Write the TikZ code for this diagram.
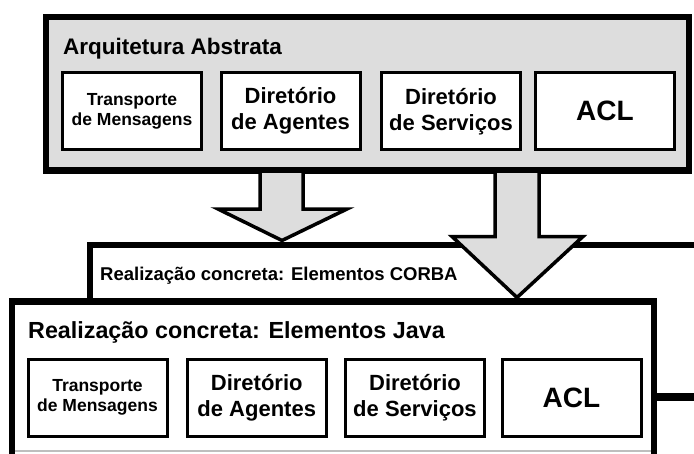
\documentclass[tikz,border=0pt]{standalone}
\usepackage{fontspec}
\setmainfont{Liberation Sans}
\definecolor{boxgray}{RGB}{221,221,221}
\definecolor{edgegray}{RGB}{190,190,190}
\tikzset{
  bigbox/.style={draw=black, line width=6.5pt, line join=miter},
  cell/.style={draw=black, line width=3pt, fill=white, minimum width=139pt,
    minimum height=77pt, inner sep=0pt, align=center,
    font=\fontsize{22}{26}\selectfont\bfseries},
  smallcell/.style={cell, font=\fontsize{17.5}{19.5}\selectfont\bfseries},
  aclcell/.style={cell, font=\fontsize{28}{30}\selectfont\bfseries},
  blockarrow/.style={draw=black, line width=3.5pt, fill=boxgray, line join=miter},
  title/.style={anchor=base west, inner sep=0pt}
}
\begin{document}
\begin{tikzpicture}[x=1pt, y=-1pt]
\useasboundingbox (0,0) rectangle (694,453);
\clip (0,0) rectangle (694,453);

% CORBA layer (behind)
\draw[draw=black, line width=5.5pt, line join=miter] (90,302) -- (90,245) -- (700,245);
\node[title, font=\fontsize{18.5}{20}\selectfont\bfseries] (corbat) at (100,280) {Realização concreta: Elementos CORBA};

% Java layer
\draw[bigbox] (12,460) -- (12,301.5) -- (654,301.5) -- (654,460);
\coordinate (jr) at (654,397);
\coordinate (jrend) at (700,397);
\draw[line width=8pt] (jr) -- (jrend);
\draw[edgegray, line width=1.5pt] (15,451) -- (651,451);
\node[title, font=\fontsize{23.3}{25}\selectfont\bfseries] (javat) at (28,338) {Realização concreta: Elementos Java};
\node[smallcell] (tm2) at (97.5,397.5) {Transporte\\de Mensagens};
\node[cell] (da2) at (256.75,397.5) {Diretório\\de Agentes};
\node[cell] (ds2) at (415,397.5) {Diretório\\de Serviços};
\node[aclcell] (acl2) at (571.5,397.5) {ACL};

% Abstract architecture
\draw[bigbox, fill=boxgray] (46,17) rectangle (689,170.5);
\node[title, font=\fontsize{22.5}{24}\selectfont\bfseries] (abst) at (63,54) {Arquitetura Abstrata};
\node[smallcell] (tm1) at (132,111.25) {Transporte\\de Mensagens};
\node[cell] (da1) at (290.5,111.25) {Diretório\\de Agentes};
\node[cell] (ds1) at (451,111.25) {Diretório\\de Serviços};
\node[aclcell] (acl1) at (605,111.25) {ACL};

% block arrows
\path[blockarrow] (260,173) -- (260,209) -- (218,209) -- (282,240.5) -- (347,209) -- (303,209) -- (303,173);
\path[blockarrow] (495,173) -- (495,236.5) -- (452,236.5) -- (517,297.5) -- (583,236.5) -- (539,236.5) -- (539,173);
\end{tikzpicture}
\end{document}
